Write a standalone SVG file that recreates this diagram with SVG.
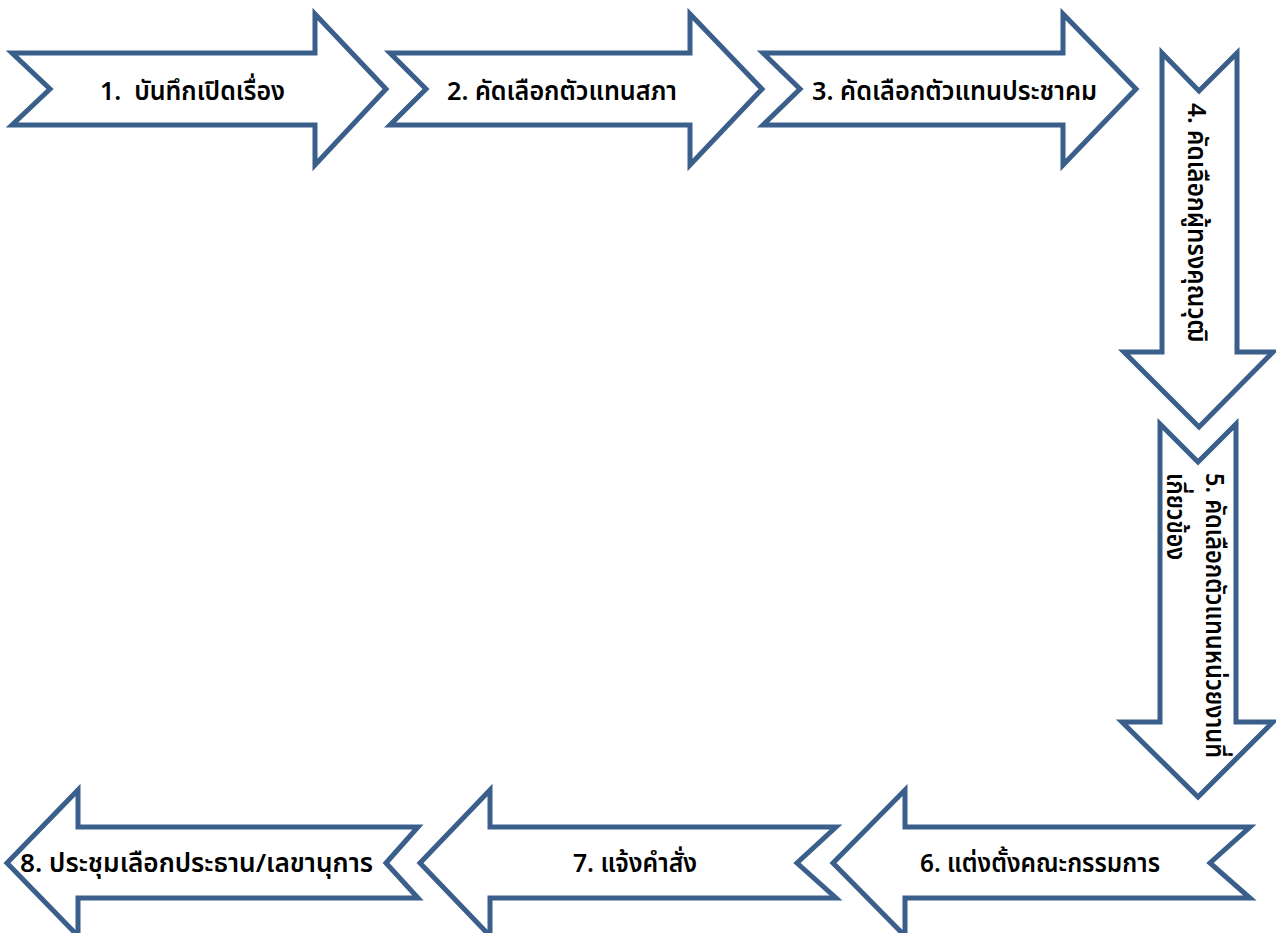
<svg xmlns="http://www.w3.org/2000/svg" width="1276" height="933" viewBox="0 0 1276 933">
<style>
.arrow{fill:#ffffff;stroke:#3a5f8b;stroke-width:5;stroke-linejoin:miter}
.lbl{font-family:"Noto Sans Thai","Tahoma","Noto Sans","DejaVu Sans",sans-serif;font-size:26px;font-weight:600;fill:#000000}
</style>
<rect width="1276" height="933" fill="#ffffff"/>
<g id="connectors"/>
<g id="node1">
<polygon class="arrow" points="12,53 315,53 315,14 386,89 315,165 315,125 12,125 50,89"/>
<text class="lbl" x="100" y="100" xml:space="preserve" textLength="185" lengthAdjust="spacingAndGlyphs">1.  บันทึกเปิดเรื่อง</text>
</g>
<g id="node2">
<polygon class="arrow" points="390,53 690,53 690,14 762,89 690,165 690,125 390,125 426,89"/>
<text class="lbl" x="447" y="100" textLength="230" lengthAdjust="spacingAndGlyphs">2. คัดเลือกตัวแทนสภา</text>
</g>
<g id="node3">
<polygon class="arrow" points="763,53 1063,53 1063,14 1136,89 1063,165 1063,125 763,125 800,89"/>
<text class="lbl" x="812" y="100" textLength="285" lengthAdjust="spacingAndGlyphs">3. คัดเลือกตัวแทนประชาคม</text>
</g>
<g id="node4">
<polygon class="arrow" points="1162,53 1199,91 1237,53 1237,352 1273,352 1199,427 1124,352 1162,352"/>
<text class="lbl" transform="translate(1188,103) rotate(90)" x="0" y="0" textLength="239" lengthAdjust="spacingAndGlyphs">4. คัดเลือกผู้ทรงคุณวุฒิ</text>
</g>
<g id="node5">
<polygon class="arrow" points="1160,424 1198,462 1236,424 1236,722 1273,722 1198,797 1122,722 1160,722"/>
<text class="lbl" transform="translate(1206,473) rotate(90)" x="0" y="0" textLength="285" lengthAdjust="spacingAndGlyphs">5. คัดเลือกตัวแทนหน่วยงานที่</text>
<text class="lbl" transform="translate(1167,473) rotate(90)" x="0" y="0" textLength="87" lengthAdjust="spacingAndGlyphs">เกี่ยวข้อง</text>
</g>
<g id="node6">
<polygon class="arrow" points="833,863 905,790 905,827 1250,827 1210,863 1250,898 905,898 905,936"/>
<text class="lbl" x="920" y="872" textLength="240" lengthAdjust="spacingAndGlyphs">6. แต่งตั้งคณะกรรมการ</text>
</g>
<g id="node7">
<polygon class="arrow" points="420,863 490,790 490,827 836,827 797,863 836,898 490,898 490,936"/>
<text class="lbl" x="573" y="872" textLength="124" lengthAdjust="spacingAndGlyphs">7. แจ้งคำสั่ง</text>
</g>
<g id="node8">
<polygon class="arrow" points="7,863 78,790 78,827 418,827 386,863 418,898 78,898 78,936"/>
<text class="lbl" x="20" y="872" textLength="353" lengthAdjust="spacingAndGlyphs">8. ประชุมเลือกประธาน/เลขานุการ</text>
</g>
</svg>
